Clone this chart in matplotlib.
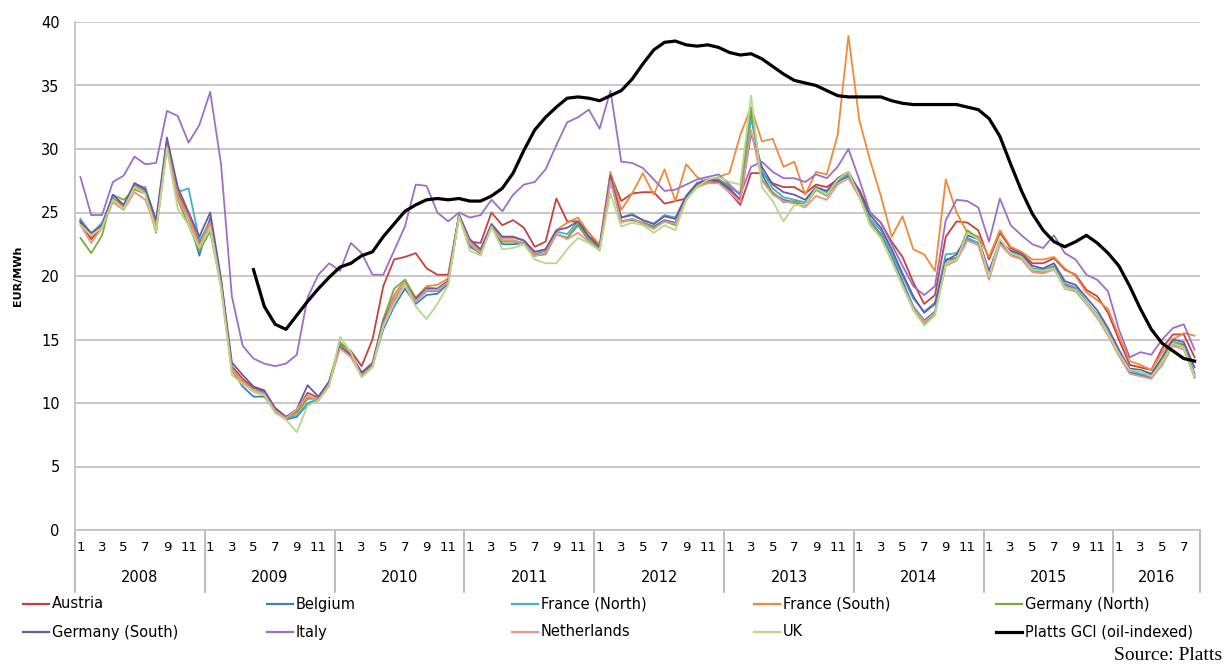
import matplotlib
matplotlib.use("Agg")
import matplotlib.pyplot as plt
from matplotlib.lines import Line2D
import matplotlib.transforms as mtransforms
import numpy as np

# Monthly gas prices, Jan 2008 - Aug 2016 (EUR/MWh)
years = [2008, 2009, 2010, 2011, 2012, 2013, 2014, 2015, 2016]
months_in_year = [12, 12, 12, 12, 12, 12, 12, 12, 8]

austria = [24.2, 22.9, 23.9, 26.1, 25.6, 27.0, 26.6, 23.9, 30.5, 26.6, 24.8, 22.6,
           24.4, 19.6, 12.9, 11.9, 11.2, 10.9, 9.6, 8.9, 9.4, 10.8, 10.4, 11.7,
           14.7, 14.1, 12.9, 15.0, 19.2, 21.3, 21.5, 21.8, 20.6, 20.1, 20.1, 24.8,
           22.7, 22.6, 25.0, 24.0, 24.4, 23.8, 22.3, 22.7, 26.1, 24.3, 24.3, 23.4,
           22.2, 28.0, 25.9, 26.5, 26.6, 26.6, 25.7, 25.9, 26.1, 27.0, 27.4, 27.4,
           26.6, 25.6, 28.1, 28.1, 27.3, 27.0, 27.0, 26.5, 27.2, 27.0, 27.6, 27.8,
           26.8, 25.0, 24.2, 22.7, 21.5, 19.5, 17.8, 18.5, 23.1, 24.3, 24.2, 23.6,
           21.3, 23.4, 22.2, 21.8, 21.0, 21.0, 21.4, 20.5, 20.1, 18.9, 18.4, 17.1,
           15.0, 13.0, 12.8, 12.6, 14.3, 15.4, 15.4, 13.6]

belgium = [24.4, 23.2, 24.0, 26.0, 25.4, 27.3, 26.9, 24.2, 30.6, 26.4, 24.6, 21.6,
           24.6, 19.4, 12.6, 11.3, 10.5, 10.5, 9.4, 8.7, 8.9, 9.9, 10.2, 11.5,
           14.6, 13.8, 12.2, 12.9, 15.8, 17.6, 19.0, 17.8, 18.5, 18.6, 19.4, 24.7,
           22.3, 21.8, 23.9, 22.5, 22.5, 22.6, 21.6, 21.8, 23.3, 23.0, 24.0, 22.8,
           22.2, 27.6, 24.3, 24.4, 24.2, 23.9, 24.4, 24.2, 26.2, 27.2, 27.5, 27.5,
           26.8, 26.0, 32.7, 28.0, 26.5, 26.0, 25.8, 25.6, 26.8, 26.4, 27.4, 27.9,
           26.4, 24.3, 23.3, 21.5, 19.6, 17.6, 16.5, 17.2, 21.3, 21.4, 22.9, 22.6,
           20.0, 22.7, 21.8, 21.5, 20.4, 20.3, 20.7, 19.3, 19.0, 17.9, 16.9, 15.5,
           13.8, 12.4, 12.2, 12.0, 13.0, 14.8, 14.6, 12.3]

france_north = [24.5, 23.3, 24.2, 26.2, 25.3, 27.1, 27.0, 24.3, 30.4, 26.6, 26.9, 22.8,
                24.2, 19.3, 12.7, 11.7, 11.0, 10.8, 9.4, 8.8, 9.0, 10.0, 10.3, 11.5,
                14.5, 13.8, 12.3, 13.0, 16.2, 18.0, 19.3, 18.0, 18.8, 18.8, 19.6, 24.8,
                22.6, 21.9, 24.0, 22.8, 22.8, 22.6, 21.7, 22.0, 23.5, 23.3, 24.3, 23.0,
                22.3, 27.4, 24.6, 24.9, 24.4, 24.1, 24.8, 24.6, 26.3, 27.3, 27.6, 27.6,
                27.1, 26.4, 32.4, 28.3, 26.9, 26.2, 26.0, 25.8, 27.0, 26.6, 27.6, 28.0,
                26.6, 24.5, 23.6, 21.8, 20.0, 18.2, 17.2, 17.9, 21.7, 21.8, 23.0, 22.6,
                20.3, 22.8, 21.9, 21.6, 20.6, 20.5, 20.8, 19.4, 19.1, 18.0, 17.0, 15.6,
                13.9, 12.6, 12.3, 12.1, 13.2, 14.6, 14.4, 12.2]

france_south = [24.3, 23.1, 24.0, 26.1, 25.4, 27.1, 26.7, 24.0, 30.4, 26.4, 24.7, 22.4,
                24.2, 19.4, 12.7, 11.7, 11.0, 10.7, 9.5, 8.8, 9.2, 10.3, 10.4, 11.6,
                14.5, 13.9, 12.4, 13.2, 16.6, 18.5, 19.7, 18.3, 19.2, 19.3, 19.8, 24.8,
                22.8, 22.0, 24.0, 23.0, 23.0, 22.8, 21.9, 22.1, 23.6, 24.2, 24.6, 23.4,
                22.5, 28.2, 25.2, 26.5, 28.1, 26.4, 28.4, 25.9, 28.8, 27.8, 27.3, 27.8,
                28.1, 31.1, 33.3, 30.6, 30.8, 28.6, 29.0, 26.4, 28.2, 28.0, 31.1, 38.9,
                32.3, 29.1, 26.3, 23.1, 24.7, 22.1, 21.7, 20.4, 27.6, 25.0, 23.4, 23.1,
                21.5, 23.6, 22.3, 21.9, 21.3, 21.3, 21.5, 20.6, 20.0, 18.7, 18.1, 17.4,
                15.3, 13.3, 13.0, 12.6, 14.0, 15.0, 15.5, 15.3]

germany_north = [23.0, 21.8, 23.2, 26.4, 26.0, 26.8, 26.5, 23.4, 30.3, 26.0, 24.0, 22.0,
                 23.5, 19.2, 12.5, 11.6, 10.9, 10.6, 9.3, 8.8, 9.3, 10.4, 10.3, 11.6,
                 14.8, 14.0, 12.2, 12.9, 16.6, 19.0, 19.7, 18.2, 19.1, 19.0, 19.6, 24.8,
                 22.5, 21.7, 24.0, 22.7, 22.7, 22.6, 21.6, 21.7, 23.3, 23.0, 24.1, 22.8,
                 22.2, 27.7, 24.3, 24.5, 24.2, 23.8, 24.3, 24.0, 26.0, 27.1, 27.5, 27.6,
                 27.0, 26.5, 33.3, 27.6, 26.6, 25.8, 25.9, 25.6, 26.8, 26.3, 27.5, 28.1,
                 26.4, 24.2, 23.2, 21.3, 19.3, 17.4, 16.2, 17.0, 21.0, 21.4, 23.6, 23.0,
                 20.1, 22.8, 21.7, 21.4, 20.4, 20.3, 20.7, 19.0, 18.8, 17.8, 16.8, 15.4,
                 13.8, 12.7, 12.6, 12.2, 13.3, 14.8, 14.5, 12.0]

germany_south = [24.3, 23.4, 24.0, 26.4, 25.6, 27.3, 26.8, 24.4, 30.9, 27.0, 25.0, 23.1,
                 25.0, 19.8, 13.2, 12.2, 11.3, 11.0, 9.6, 8.9, 9.5, 11.4, 10.5, 11.7,
                 14.4, 13.8, 12.4, 13.1, 16.4, 18.2, 19.4, 18.2, 19.0, 19.0, 19.6, 24.8,
                 22.9, 22.1, 24.1, 23.1, 23.1, 22.8, 21.9, 22.1, 23.6, 23.8, 24.3, 23.1,
                 22.3, 27.9, 24.6, 24.8, 24.4, 24.1, 24.7, 24.5, 26.3, 27.3, 27.6, 27.5,
                 26.9, 26.0, 31.2, 28.6, 27.2, 26.6, 26.4, 26.0, 27.0, 26.7, 27.7, 28.2,
                 26.7, 24.8, 23.8, 22.1, 20.2, 18.4, 17.1, 17.8, 21.2, 21.7, 23.2, 22.9,
                 20.4, 22.7, 22.0, 21.7, 20.8, 20.6, 21.0, 19.6, 19.3, 18.3, 17.3, 15.9,
                 14.2, 12.7, 12.6, 12.3, 13.6, 15.0, 14.8, 12.8]

italy = [27.8, 24.8, 24.8, 27.4, 27.9, 29.4, 28.8, 28.9, 33.0, 32.6, 30.5, 31.9,
         34.5, 28.8, 18.4, 14.5, 13.5, 13.1, 12.9, 13.1, 13.8, 18.3, 20.1, 21.0,
         20.4, 22.6, 21.8, 20.1, 20.1, 22.0, 23.9, 27.2, 27.1, 25.0, 24.3, 25.0,
         24.6, 24.8, 26.0, 25.1, 26.4, 27.2, 27.4, 28.4, 30.3, 32.1, 32.5, 33.1,
         31.6, 34.6, 29.0, 28.9, 28.5, 27.6, 26.7, 26.8, 27.2, 27.6, 27.8, 28.0,
         27.2, 26.4, 28.6, 29.0, 28.2, 27.7, 27.7, 27.4, 28.0, 27.7, 28.6, 30.0,
         27.6, 25.0, 24.2, 22.5, 20.8, 19.2, 18.5, 19.2, 24.4, 26.0, 25.9, 25.4,
         22.7, 26.1, 24.0, 23.2, 22.5, 22.2, 23.2, 21.8, 21.3, 20.1, 19.7, 18.8,
         15.8, 13.6, 14.0, 13.8, 15.0, 15.9, 16.2, 14.2]

netherlands = [24.0, 22.6, 23.8, 25.8, 25.2, 26.6, 26.0, 23.7, 30.2, 26.0, 24.5, 22.3,
               24.0, 19.3, 12.6, 11.6, 11.0, 10.7, 9.4, 8.8, 9.5, 10.6, 10.2, 11.5,
               14.3, 13.6, 12.1, 12.9, 16.2, 18.2, 19.4, 18.0, 18.9, 18.9, 19.5, 24.6,
               22.6, 21.8, 23.8, 22.8, 22.8, 22.5, 21.6, 21.8, 23.3, 22.9, 23.4, 22.7,
               22.0, 27.5, 24.2, 24.5, 24.1, 23.7, 24.3, 24.1, 26.0, 27.0, 27.3, 27.3,
               26.6, 25.8, 31.5, 27.5, 26.4, 25.9, 25.7, 25.4, 26.3, 26.0, 27.2, 27.7,
               26.2, 24.1, 23.0, 21.2, 19.3, 17.5, 16.4, 17.1, 20.8, 21.2, 22.8, 22.4,
               19.7, 22.5, 21.6, 21.3, 20.3, 20.2, 20.5, 19.2, 18.9, 17.8, 16.7, 15.3,
               13.7, 12.3, 12.1, 11.9, 13.0, 14.5, 14.2, 12.0]

uk = [24.0, 23.2, 23.8, 26.0, 25.3, 27.0, 26.5, 23.5, 30.0, 25.3, 24.0, 22.2,
      23.8, 19.0, 12.2, 11.5, 10.9, 10.6, 9.2, 8.7, 7.7, 9.8, 10.2, 11.3,
      15.2, 14.0, 12.0, 12.8, 16.0, 17.8, 19.3, 17.6, 16.6, 17.8, 19.3, 24.7,
      22.0, 21.6, 23.9, 22.1, 22.2, 22.5, 21.3, 21.0, 21.0, 22.1, 23.0, 22.6,
      22.0, 26.5, 23.9, 24.2, 24.0, 23.4, 24.0, 23.6, 26.0, 27.0, 27.6, 27.8,
      27.4, 27.2, 34.2, 27.0, 25.9, 24.3, 25.6, 25.6, 26.9, 26.4, 27.6, 28.2,
      26.3, 24.0, 23.0, 21.2, 19.2, 17.3, 16.1, 16.9, 21.0, 21.3, 23.4, 22.9,
      20.0, 22.9, 21.8, 21.5, 20.5, 20.4, 20.6, 19.0, 18.9, 17.9, 16.9, 15.5,
      13.9, 12.6, 12.5, 12.1, 13.2, 14.7, 14.4, 12.1]

# Platts GCI (oil-indexed) starts May 2009
platts_start = 16
platts = [20.5, 17.6, 16.2, 15.8, 16.9, 18.0, 19.0, 19.9,
          20.7, 21.0, 21.6, 21.9, 23.1, 24.1, 25.1, 25.6, 26.0, 26.1, 26.0, 26.1,
          25.9, 25.9, 26.3, 26.9, 28.1, 29.9, 31.5, 32.5, 33.3, 34.0, 34.1, 34.0,
          33.8, 34.2, 34.6, 35.5, 36.7, 37.8, 38.4, 38.5, 38.2, 38.1, 38.2, 38.0,
          37.6, 37.4, 37.5, 37.1, 36.5, 35.9, 35.4, 35.2, 35.0, 34.6, 34.2, 34.1,
          34.1, 34.1, 34.1, 33.8, 33.6, 33.5, 33.5, 33.5, 33.5, 33.5, 33.3, 33.1,
          32.4, 31.0, 28.8, 26.7, 24.9, 23.6, 22.7, 22.3, 22.7, 23.2, 22.6, 21.8,
          20.8, 19.2, 17.4, 15.8, 14.7, 14.1, 13.5, 13.3]

series = [
    ("Austria", austria, "#c8403f"),
    ("Belgium", belgium, "#3f7dc8"),
    ("France (North)", france_north, "#46b0c9"),
    ("France (South)", france_south, "#f08a3a"),
    ("Germany (North)", germany_north, "#79ad3c"),
    ("Germany (South)", germany_south, "#6a5aa6"),
    ("Italy", italy, "#9b6fca"),
    ("Netherlands", netherlands, "#e8958d"),
    ("UK", uk, "#b5d88a"),
]

fig = plt.figure(figsize=(12.27, 6.68), dpi=100)
ax = fig.add_axes([75 / 1227, 1 - 530 / 668, 1125 / 1227, 508 / 668])

n = len(austria)
x = np.arange(n)
for name, vals, col in series:
    ax.plot(x, vals, color=col, lw=1.3, label=name, zorder=3)
ax.plot(np.arange(platts_start, platts_start + len(platts)), platts,
        color="black", lw=2.3, label="Platts GCI (oil-indexed)", zorder=4)

ax.set_xlim(-0.5, n - 0.5)
ax.set_ylim(0, 40)
ax.set_yticks(range(0, 41, 5))
ax.grid(axis="y", color="#c4c4c4", lw=1.3, zorder=0)
ax.tick_params(axis="y", length=0, pad=11, labelsize=10.5)
for s in ["top", "right"]:
    ax.spines[s].set_visible(False)
for s in ["left", "bottom"]:
    ax.spines[s].set_color("#c4c4c4")
    ax.spines[s].set_linewidth(1.3)

# month labels (every other month)
pos, labs = [], []
k = 0
for y, m in zip(years, months_in_year):
    for mm in range(1, m + 1):
        if mm % 2 == 1:
            pos.append(k)
            labs.append(str(mm))
        k += 1
ax.set_xticks(pos)
ax.set_xticklabels(labs, fontsize=9.5)
ax.tick_params(axis="x", length=0, pad=8)

# year labels and separators
trans = mtransforms.blended_transform_factory(ax.transData, ax.transAxes)
start = 0
for y, m in zip(years, months_in_year):
    ax.text(start + m / 2 - 0.5, -0.094, str(y), transform=trans,
            ha="center", va="center", fontsize=10.5, clip_on=False)
    ax.plot([start - 0.5, start - 0.5], [0, -0.123], transform=trans,
            color="#b0b0b0", lw=1.2, clip_on=False)
    start += m
ax.plot([start - 0.5, start - 0.5], [0, -0.123], transform=trans,
        color="#b0b0b0", lw=1.2, clip_on=False)

fig.text(18 / 1227, 1 - 276 / 668, "EUR/MWh", rotation=90, ha="center",
         va="center", fontsize=8, fontweight="bold")

# legend, two rows of five
handles = [(n_, c) for n_, _, c in series] + [("Platts GCI (oil-indexed)", "black")]
col_x = [23, 267, 512, 754, 996]
row_y = [604, 632]
for idx, (lab, col) in enumerate(handles):
    r, c = divmod(idx, 5)
    x0 = col_x[c] / 1227
    yy = 1 - row_y[r] / 668
    lw = 2.3 if col == "black" else 1.6
    fig.add_artist(Line2D([x0, x0 + 26 / 1227], [yy, yy], color=col, lw=lw))
    fig.text(x0 + 29 / 1227, yy, lab, ha="left", va="center", fontsize=10.5)

fig.text(1222 / 1227, 1 - 656 / 668, "Source: Platts", ha="right", va="center",
         fontsize=14, family="Liberation Serif")

fig.savefig("out.png", dpi=100)
